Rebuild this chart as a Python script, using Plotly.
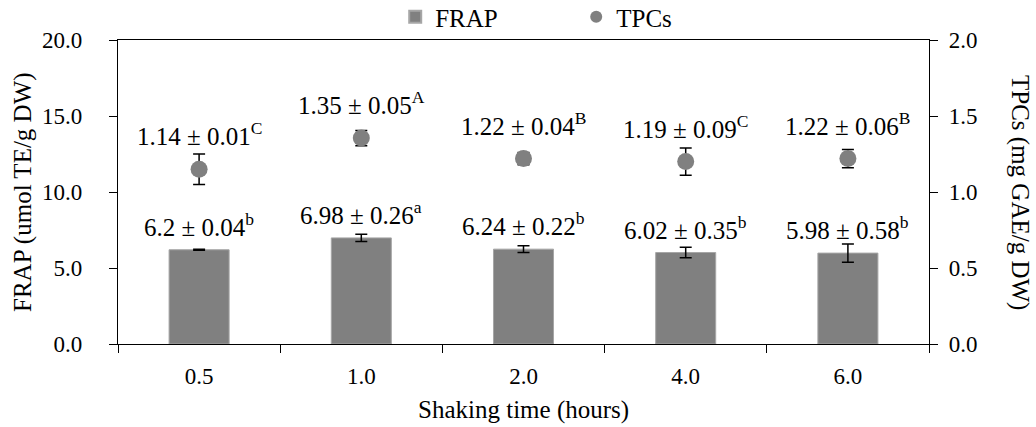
import plotly.graph_objects as go

categories = ["0.5", "1.0", "2.0", "4.0", "6.0"]
frap = [6.20, 6.98, 6.24, 6.02, 5.98]
frap_err = [0.04, 0.24, 0.22, 0.35, 0.60]
frap_labels = ["6.2 ± 0.04<sup>b</sup>", "6.98 ± 0.26<sup>a</sup>", "6.24 ± 0.22<sup>b</sup>",
               "6.02 ± 0.35<sup>b</sup>", "5.98 ± 0.58<sup>b</sup>"]
tpcs = [1.15, 1.355, 1.22, 1.20, 1.22]
tpcs_err = [0.10, 0.05, 0.04, 0.09, 0.06]
tpcs_labels = ["1.14 ± 0.01<sup>C</sup>", "1.35 ± 0.05<sup>A</sup>", "1.22 ± 0.04<sup>B</sup>",
               "1.19 ± 0.09<sup>C</sup>", "1.22 ± 0.06<sup>B</sup>"]

FONT = "Liberation Serif, Times New Roman, serif"
GRAY = "#808080"
idx = list(range(len(categories)))

fig = go.Figure()
fig.add_trace(go.Bar(
    x=idx, y=frap, name="FRAP", width=0.37,
    marker=dict(color=GRAY, line=dict(color="#a6a6a6", width=1)),
    error_y=dict(type="data", array=frap_err, color="black", thickness=1.5, width=6),
    yaxis="y",
))
fig.add_trace(go.Scatter(
    x=idx, y=tpcs, name="TPCs", mode="markers",
    marker=dict(color=GRAY, size=17, symbol="circle"),
    error_y=dict(type="data", array=tpcs_err, color="black", thickness=1.5, width=6),
    yaxis="y2",
))

annotations = []
for i, v, t in zip(idx, frap, frap_labels):
    annotations.append(dict(x=i, y=v, xref="x", yref="y", text=t, showarrow=False,
                            xanchor="center", yanchor="middle",
                            yshift=25, font=dict(family=FONT, size=25, color="black")))
for i, v, t in zip(idx, tpcs, tpcs_labels):
    annotations.append(dict(x=i, y=v, xref="x", yref="y2", text=t, showarrow=False,
                            xanchor="center", yanchor="middle",
                            yshift=35, font=dict(family=FONT, size=25, color="black")))
annotations.append(dict(x=1.0, xref="paper", xshift=91, y=0.5, yref="paper",
                        xanchor="center", yanchor="middle",
                        text="TPCs (mg GAE/g DW)", textangle=90, showarrow=False,
                        font=dict(family=FONT, size=25, color="black")))
annotations.append(dict(x=0.0, xref="paper", xshift=-95, y=0.5, yref="paper",
                        xanchor="center", yanchor="middle",
                        text="FRAP (umol TE/g DW)", textangle=-90, showarrow=False,
                        font=dict(family=FONT, size=25, color="black")))
annotations.append(dict(x=0.5, xref="paper", y=0.0, yref="paper", yshift=-66,
                        xanchor="center", yanchor="middle",
                        text="Shaking time (hours)", showarrow=False,
                        font=dict(family=FONT, size=25, color="black")))

fig.update_layout(
    width=1036, height=427,
    margin=dict(l=118, r=107, t=40, b=83, autoexpand=False),
    paper_bgcolor="white", plot_bgcolor="white",
    font=dict(family=FONT, size=23, color="black"),
    showlegend=True,
    legend=dict(orientation="h", x=0.565, xanchor="center", xref="paper",
                y=1.0, yanchor="bottom", yref="paper",
                bgcolor="rgba(0,0,0,0)",
                font=dict(family=FONT, size=25, color="black"),
                entrywidth=136, itemsizing="constant"),
    xaxis=dict(range=[-0.5, 4.5], tickvals=[-0.5, 0.5, 1.5, 2.5, 3.5, 4.5],
               ticktext=["", "", "", "", "", ""],
               ticks="outside", ticklen=8, tickcolor="black",
               showline=True, linecolor="black", linewidth=1.2, mirror=True,
               showgrid=False, zeroline=False),
    xaxis2=dict(range=[-0.5, 4.5], overlaying="x", anchor="y", side="bottom",
                tickvals=idx, ticktext=categories, ticks="", ticklabelstandoff=16,
                showline=False, showgrid=False, zeroline=False,
                tickfont=dict(family=FONT, size=23)),
    yaxis=dict(range=[0, 20], dtick=5, tickformat=".1f",
               ticks="outside", ticklen=8, tickcolor="black",
               showline=True, linecolor="black", linewidth=1.2,
               showgrid=False, zeroline=False, ticklabelstandoff=22,
               tickfont=dict(family=FONT, size=23)),
    yaxis2=dict(range=[0, 2], dtick=0.5, tickformat=".1f", overlaying="y", side="right",
                ticks="outside", ticklen=8, tickcolor="black",
                showline=True, linecolor="black", linewidth=1.2,
                showgrid=False, zeroline=False, ticklabelstandoff=6,
                tickfont=dict(family=FONT, size=23)),
    annotations=annotations,
)
# invisible trace that activates the category-label axis
fig.add_trace(go.Scatter(x=idx, y=frap, xaxis="x2", yaxis="y", mode="markers",
                         marker=dict(opacity=0), showlegend=False, hoverinfo="skip"))

fig.write_html("out.html", config={"displayModeBar": False},
               post_script="document.body.style.margin='0';document.body.style.overflow='hidden';")
